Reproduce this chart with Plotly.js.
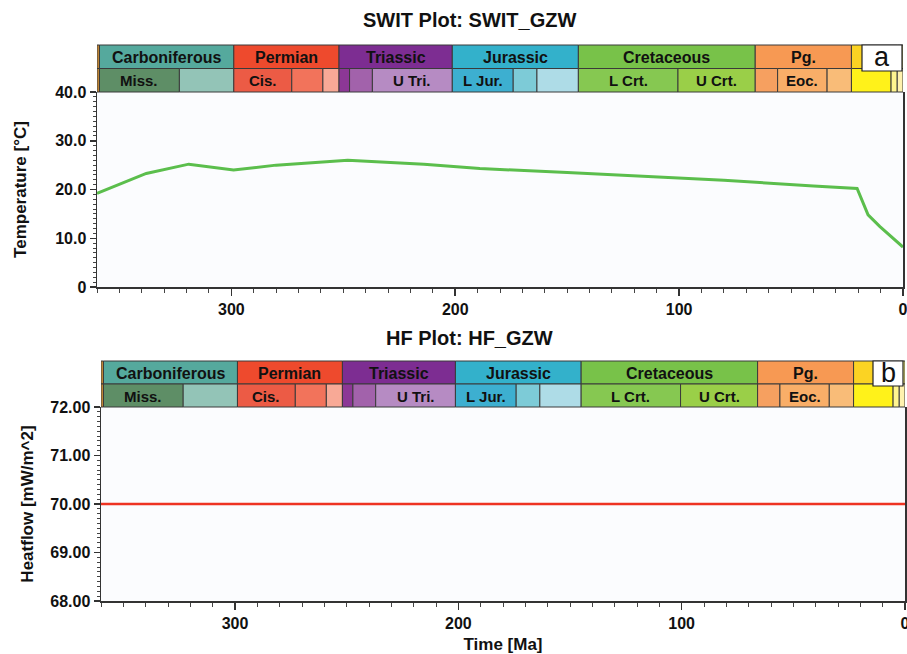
<!DOCTYPE html>
<html>
<head>
<meta charset="utf-8">
<script src="https://cdn.plot.ly/plotly-3.0.1.min.js"></script>
<style>
  html, body { margin: 0; padding: 0; background: #ffffff; }
  #chart { width: 907px; height: 654px; }
</style>
</head>
<body>
<div id="chart"></div>
<script>
// Burial temperature history (SWIT) at GZW
const tempAge = [360, 338, 319, 299, 280, 248, 214, 189, 150, 114, 80, 40, 20.5, 15.6, 10.3, 0];
const tempVal = [19.2, 23.3, 25.2, 24.0, 25.0, 26.0, 25.2, 24.3, 23.5, 22.6, 21.9, 20.7, 20.2, 14.8, 12.4, 8.2];

// Basal heat flow history at GZW
const heatAge = [360, 0];
const heatVal = [70, 70];

// Geological time scale: periods (upper row)
const periodBounds = [360, 358.9, 298.9, 251.9, 201.3, 145.0, 66.0, 23.03, 2.58, 0];
const periodLabels = ['', 'Carboniferous', 'Permian', 'Triassic', 'Jurassic', 'Cretaceous', 'Pg.', '', ''];
const periodColors = ['#CB8C37', '#55A99D', '#EE4A2D', '#7D2D92', '#33B1CB', '#78C249', '#F79953', '#FBD323', '#F9F27F'];

// Geological time scale: epochs (lower row)
const epochBounds = [360, 358.9, 323.2, 298.9, 273.0, 259.1, 251.9, 247.2, 237.0, 201.3, 174.1, 163.5, 145.0, 100.5, 66.0, 56.0, 33.9, 23.03, 5.33, 2.58, 0];
const epochLabels = ['', 'Miss.', '', 'Cis.', '', '', '', '', 'U Tri.', 'L Jur.', '', '', 'L Crt.', 'U Crt.', '', 'Eoc.', '', '', '', ''];
const epochColors = ['#CB8C37', '#5E8E66', '#93C4B7', '#EC5B45', '#F2735B', '#F8A996', '#8C3796', '#A262AB', '#B68BC3', '#3DAFD0', '#7DCBD7', '#AEDCE7', '#86C851', '#9ACF48', '#F6A060', '#F9AE68', '#F9BC78', '#FFF21A', '#FFF58F', '#FFF2AE'];

const FONT = 'Liberation Sans, Arial, sans-serif';
const W = 907, H = 654;
const px = v => v / W;          // horizontal pixel -> paper
const py = v => 1 - v / H;      // vertical pixel -> paper

// panel geometry in pixels
const panels = [
  { xa: 'x',  ya: 'y',  left: 97,  right: 903, top: 92,  bottom: 287, rowTop: 45,  rowMid: 68.5, tag: 'a',
    tagBox: [862, 45, 902, 71], title: 'SWIT Plot: SWIT_GZW', titleY: 20 },
  { xa: 'x2', ya: 'y2', left: 101, right: 905, top: 407, bottom: 601, rowTop: 361, rowMid: 384, tag: 'b',
    tagBox: [873, 361, 903, 386], title: 'HF Plot: HF_GZW', titleY: 338 }
];

const shapes = [];
const annotations = [];

function label(xref, x, y, text, font) {
  annotations.push({ xref: xref, yref: 'paper', x: x, y: y, text: text, showarrow: false,
    xanchor: 'center', yanchor: 'middle', font: font });
}

panels.forEach(p => {
  // time-scale bars
  for (let i = 0; i < periodLabels.length; i++) {
    shapes.push({ type: 'rect', xref: p.xa, yref: 'paper',
      x0: periodBounds[i], x1: periodBounds[i + 1], y0: py(p.rowMid), y1: py(p.rowTop),
      fillcolor: periodColors[i], line: { color: '#3a3a3a', width: 1 }, layer: 'above' });
    if (periodLabels[i]) {
      label(p.xa, (periodBounds[i] + periodBounds[i + 1]) / 2, py((p.rowTop + p.rowMid) / 2 + 0.5),
        periodLabels[i], { family: FONT, size: 16, color: '#111', weight: 'bold' });
    }
  }
  for (let i = 0; i < epochLabels.length; i++) {
    shapes.push({ type: 'rect', xref: p.xa, yref: 'paper',
      x0: epochBounds[i], x1: epochBounds[i + 1], y0: py(p.top), y1: py(p.rowMid),
      fillcolor: epochColors[i], line: { color: '#3a3a3a', width: 1 }, layer: 'above' });
    if (epochLabels[i]) {
      label(p.xa, (epochBounds[i] + epochBounds[i + 1]) / 2, py((p.rowMid + p.top) / 2 + 0.5),
        epochLabels[i], { family: FONT, size: 15, color: '#111', weight: 'bold' });
    }
  }
  // panel letter
  const b = p.tagBox;
  shapes.push({ type: 'rect', xref: 'paper', yref: 'paper', x0: px(b[0]), x1: px(b[2]), y0: py(b[3]), y1: py(b[1]),
    fillcolor: '#ffffff', line: { color: '#222', width: 1.2 }, layer: 'above' });
  label('paper', px((b[0] + b[2]) / 2), py((b[1] + b[3]) / 2 - 1), p.tag, { family: FONT, size: 27, color: '#111' });
  // panel title
  label('paper', px(469), py(p.titleY), p.title, { family: FONT, size: 20, color: '#111', weight: 'bold' });
});

const tickFont = { family: FONT, size: 16, color: '#111', weight: 'bold' };
const titleFont = { family: FONT, size: 17, color: '#111', weight: 'bold' };

function xAxis(p, withTitle) {
  return {
    domain: [px(p.left), px(p.right)], anchor: p.ya, range: [360, 0],
    tickmode: 'linear', tick0: 0, dtick: 100, ticks: 'outside', ticklen: 7, tickwidth: 1.5, tickcolor: '#333',
    minor: { tickmode: 'linear', tick0: 0, dtick: 10, ticks: 'outside', ticklen: 4, tickwidth: 1, tickcolor: '#444' },
    showline: true, linecolor: '#333', linewidth: 1.5, mirror: false, showgrid: false, zeroline: false,
    tickfont: tickFont, ticklabeloverflow: 'allow',
    title: withTitle ? { text: 'Time [Ma]', font: titleFont, standoff: 7 } : { text: '' }
  };
}

const layout = {
  width: W, height: H,
  margin: { l: 0, r: 0, t: 0, b: 0 },
  paper_bgcolor: '#ffffff', plot_bgcolor: '#fbfcfe',
  showlegend: false,
  xaxis: xAxis(panels[0], false),
  xaxis2: xAxis(panels[1], true),
  yaxis: {
    domain: [py(panels[0].bottom), py(panels[0].top)], anchor: 'x', range: [0, 40],
    tickmode: 'linear', tick0: 0, dtick: 10, tickformat: '.1f', labelalias: { '0.0': '0' },
    ticks: 'outside', ticklen: 6, tickwidth: 1.5, tickcolor: '#333',
    minor: { tickmode: 'linear', tick0: 0, dtick: 1, ticks: 'outside', ticklen: 3, tickwidth: 1, tickcolor: '#444' },
    showline: true, linecolor: '#333', linewidth: 1.5, mirror: true, showgrid: false, zeroline: false,
    tickfont: tickFont,
    title: { text: 'Temperature [°C]', font: titleFont, standoff: 24 }
  },
  yaxis2: {
    domain: [py(panels[1].bottom), py(panels[1].top)], anchor: 'x2', range: [68, 72],
    tickmode: 'linear', tick0: 68, dtick: 1, tickformat: '.2f',
    ticks: 'outside', ticklen: 6, tickwidth: 1.5, tickcolor: '#333',
    minor: { tickmode: 'linear', tick0: 68, dtick: 0.1, ticks: 'outside', ticklen: 3, tickwidth: 1, tickcolor: '#444' },
    showline: true, linecolor: '#333', linewidth: 1.5, mirror: true, showgrid: false, zeroline: false,
    tickfont: tickFont,
    title: { text: 'Heatflow [mW/m^2]', font: titleFont, standoff: 12 }
  },
  shapes: shapes,
  annotations: annotations
};

const traces = [
  { x: tempAge, y: tempVal, xaxis: 'x', yaxis: 'y', type: 'scatter', mode: 'lines',
    line: { color: '#5BBE4C', width: 3 }, hoverinfo: 'x+y', name: 'SWIT' },
  { x: heatAge, y: heatVal, xaxis: 'x2', yaxis: 'y2', type: 'scatter', mode: 'lines',
    line: { color: '#EE3322', width: 2.5 }, hoverinfo: 'x+y', name: 'HF' }
];

Plotly.newPlot('chart', traces, layout, { displayModeBar: false, staticPlot: true });
</script>
</body>
</html>
